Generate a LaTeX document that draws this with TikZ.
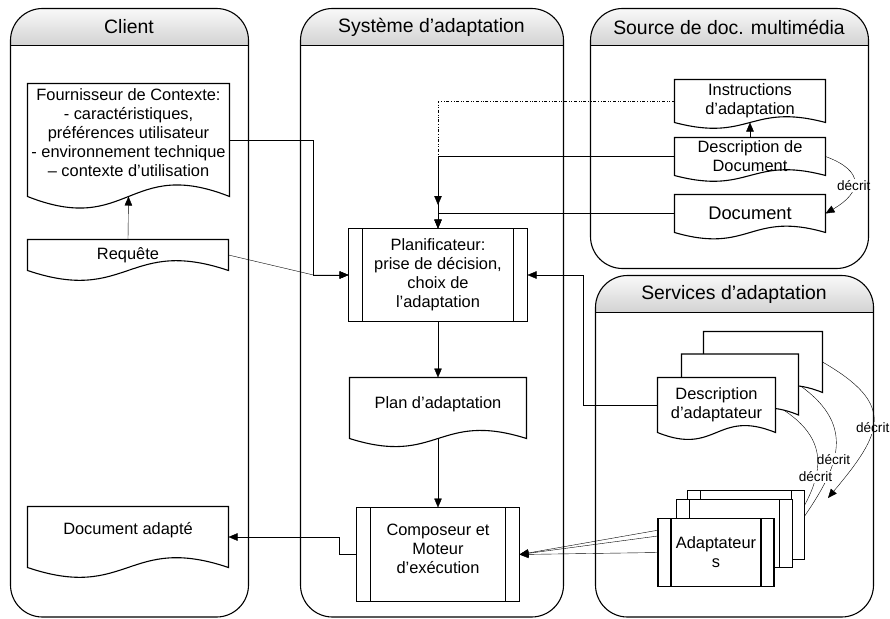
\documentclass[tikz,border=0pt]{standalone}
\usepackage{fontspec}
\setmainfont{Liberation Sans}
\usetikzlibrary{arrows.meta,backgrounds}

\pgfkeys{/tikz/wave amp/.initial=28pt,/tikz/bar gap/.initial=14pt}
\newdimen\wvl \newdimen\wvr \newdimen\wvm
\newdimen\wvt \newdimen\wvb \newdimen\wvu \newdimen\wvd
\makeatletter
% box with a wavy lower edge (document)
\pgfdeclareshape{wavedoc}{
  \inheritsavedanchors[from=rectangle]
  \inheritanchorborder[from=rectangle]
  \inheritanchor[from=rectangle]{center}
  \inheritanchor[from=rectangle]{north}
  \inheritanchor[from=rectangle]{south}
  \inheritanchor[from=rectangle]{east}
  \inheritanchor[from=rectangle]{west}
  \inheritanchor[from=rectangle]{north east}
  \inheritanchor[from=rectangle]{north west}
  \inheritanchor[from=rectangle]{south east}
  \inheritanchor[from=rectangle]{south west}
  \backgroundpath{
    \southwest \wvl=\pgf@x \wvb=\pgf@y
    \northeast \wvr=\pgf@x \wvt=\pgf@y
    \wvm=.5\wvl \advance\wvm by .5\wvr
    \wvu=\wvb \advance\wvu by \pgfkeysvalueof{/tikz/wave amp}\relax
    \wvd=\wvb \advance\wvd by -\pgfkeysvalueof{/tikz/wave amp}\relax
    \pgfpathmoveto{\pgfqpoint{\wvl}{\wvt}}
    \pgfpathlineto{\pgfqpoint{\wvr}{\wvt}}
    \pgfpathlineto{\pgfqpoint{\wvr}{\wvb}}
    \pgfpathcurveto{\pgfqpoint{\wvm}{\wvu}}{\pgfqpoint{\wvm}{\wvd}}{\pgfqpoint{\wvl}{\wvb}}
    \pgfpathclose
  }
}
% box with two inner bars (predefined process)
\pgfdeclareshape{procbox}{
  \inheritsavedanchors[from=rectangle]
  \inheritanchorborder[from=rectangle]
  \inheritanchor[from=rectangle]{center}
  \inheritanchor[from=rectangle]{north}
  \inheritanchor[from=rectangle]{south}
  \inheritanchor[from=rectangle]{east}
  \inheritanchor[from=rectangle]{west}
  \inheritanchor[from=rectangle]{north east}
  \inheritanchor[from=rectangle]{north west}
  \inheritanchor[from=rectangle]{south east}
  \inheritanchor[from=rectangle]{south west}
  \backgroundpath{
    \southwest \wvl=\pgf@x \wvb=\pgf@y
    \northeast \wvr=\pgf@x \wvt=\pgf@y
    \pgfpathmoveto{\pgfqpoint{\wvl}{\wvb}}
    \pgfpathlineto{\pgfqpoint{\wvr}{\wvb}}
    \pgfpathlineto{\pgfqpoint{\wvr}{\wvt}}
    \pgfpathlineto{\pgfqpoint{\wvl}{\wvt}}
    \pgfpathclose
    \advance\wvl by \pgfkeysvalueof{/tikz/bar gap}\relax
    \advance\wvr by -\pgfkeysvalueof{/tikz/bar gap}\relax
    \pgfpathmoveto{\pgfqpoint{\wvl}{\wvb}}
    \pgfpathlineto{\pgfqpoint{\wvl}{\wvt}}
    \pgfpathmoveto{\pgfqpoint{\wvr}{\wvb}}
    \pgfpathlineto{\pgfqpoint{\wvr}{\wvt}}
  }
}
\makeatother

\begin{document}
\begin{tikzpicture}[x=1pt,y=-1pt,line width=1.1pt,
    font=\fontsize{16.4}{19}\selectfont,
    doc/.style={shape=wavedoc,draw,fill=white,align=center,inner sep=2pt,outer sep=0pt},
    proc/.style={shape=procbox,draw,fill=white,align=center,inner sep=2pt,outer sep=0pt},
    lift/.style={text depth=#1},
    lanetitle/.style={font=\fontsize{19.4}{23}\selectfont},
    arr/.style={-{Triangle[length=9pt,width=7.5pt]}},
    lbl/.style={font=\fontsize{13.6}{16}\selectfont,fill=white,inner sep=1pt}]
    \useasboundingbox (0,0) rectangle (890,618);

    % swimlanes
    \foreach \xa/\ya/\xb/\yb in {10.5/8.5/248.5/617, 300.5/8.5/563.5/617, 590.5/8.5/868.5/268.5, 595.5/275.5/873.5/617}{
        \begin{scope}
            \clip[rounded corners=32pt] (\xa,\ya) rectangle (\xb,\yb);
            \shade[top color=gray!5,bottom color=gray!35] (\xa,\ya) rectangle (\xb,\ya+37);
        \end{scope}
        \draw[rounded corners=32pt] (\xa,\ya) rectangle (\xb,\yb);
        \draw (\xa,\ya+37) -- (\xb,\ya+37);
    }
    \node[lanetitle] (tclient) at (129,27) {Client};
    \node[lanetitle] (tsys) at (431.5,27) {Système d’adaptation};
    \node[lanetitle] (tsrc) at (729,27) {Source de doc. multimédia};
    \node[lanetitle] (tsrv) at (734,294) {Services d’adaptation};

    % Client
    \node[doc,wave amp=40pt,lift=15pt,minimum width=202,minimum height=113] (ctx) at (128.5,140)
        {Fournisseur de Contexte:\\- caractéristiques,\\préférences utilisateur\\- environnement technique\\– contexte d’utilisation};
    \node[doc,wave amp=34pt,minimum width=201,minimum height=31] (req) at (128,255) {Requête};
    \node[doc,wave amp=34pt,lift=17pt,minimum width=201,minimum height=61] (adapted) at (128,537) {Document adapté};

    % Systeme d'adaptation
    \node[proc,minimum width=179,minimum height=93] (planif) at (438,275)
        {Planificateur:\\prise de décision,\\choix de\\l’adaptation};
    \node[doc,lift=11pt,minimum width=177,minimum height=61] (plan) at (438,408) {Plan d’adaptation};
    \node[proc,lift=12pt,minimum width=163,minimum height=94] (comp) at (438,554.5)
        {Composeur et\\Moteur\\d’exécution};

    % Source de documents
    \node[doc,wave amp=20pt,minimum width=151,minimum height=43] (instr) at (750,101)
        {Instructions\\d’adaptation};
    \node[doc,wave amp=20pt,minimum width=151,minimum height=38] (ddesc) at (750,156.5)
        {Description de\\Document};
    \node[doc,wave amp=22pt,minimum width=151,minimum height=38,
        font=\fontsize{18.3}{22}\selectfont] (document) at (750,213.5) {Document};

    % Services d'adaptation
    \node[doc,wave amp=24pt,minimum width=119,minimum height=61] (descA) at (763,362) {};
    \node[doc,wave amp=24pt,minimum width=117,minimum height=61] (descB) at (740,384.5) {};
    \node[doc,wave amp=24pt,minimum width=118,minimum height=55] (descC) at (716.5,405)
        {Description\\d’adaptateur};
    \node[proc,bar gap=13pt,minimum width=117,minimum height=69] (adaptA) at (746,525) {};
    \node[proc,bar gap=13pt,minimum width=116,minimum height=68] (adaptB) at (734.5,533.5) {};
    \node[proc,bar gap=13pt,minimum width=116,minimum height=68] (adaptC) at (716,552.5)
        {Adaptateur\\s};

    \coordinate (jl) at (313.5,275);
    \coordinate (jr) at (583.5,275);
    \coordinate (jt) at (438,205);
    \coordinate (tback) at (828,498);

    \begin{scope}[on background layer]
        \draw[arr] (ctx.east) -| (jl) -- (planif.west);
        \draw[arr] (req.east) -- (jl) -- (planif.west);
        \draw[arr] (req.north) -- (ctx.south);
        \draw[arr,dash dot dot] (instr.west) -| (jt);
        \draw[arr] (ddesc.west) -| (planif.north);
        \draw[arr] (document.west) -| (planif.north);
        \draw[arr] (ddesc.north) -- (instr.south);
        \draw[arr] (ddesc.east) to[out=-20,in=30,looseness=1.9] node[lbl,pos=0.55] {décrit} (document.east);
        \draw[arr] (descC.west) -| (jr) -- (planif.east);
        \draw[arr] (planif.south) -- (plan.north);
        \draw[arr] (plan.south) -- (comp.north);
        \draw[arr] (comp.west) -- ++(-17pt,0) |- (adapted.east);
        \draw[arr] (adaptA.west) -- (comp.east);
        \draw[arr] (adaptB.west) -- (comp.east);
        \draw[arr] (adaptC.west) -- (comp.east);
        \draw[arr] (descA.east) to[out=-30,in=50,looseness=1.6] node[lbl,pos=0.55] {décrit} (tback);
        \draw[arr] (descB.east) to[out=-35,in=55,looseness=1.3] node[lbl,pos=0.55] {décrit} (adaptB.east);
        \draw[arr] (descC.east) to[out=-30,in=55,looseness=1.35] node[lbl,pos=0.55] {décrit} (adaptC.east);
    \end{scope}
\end{tikzpicture}
\end{document}
